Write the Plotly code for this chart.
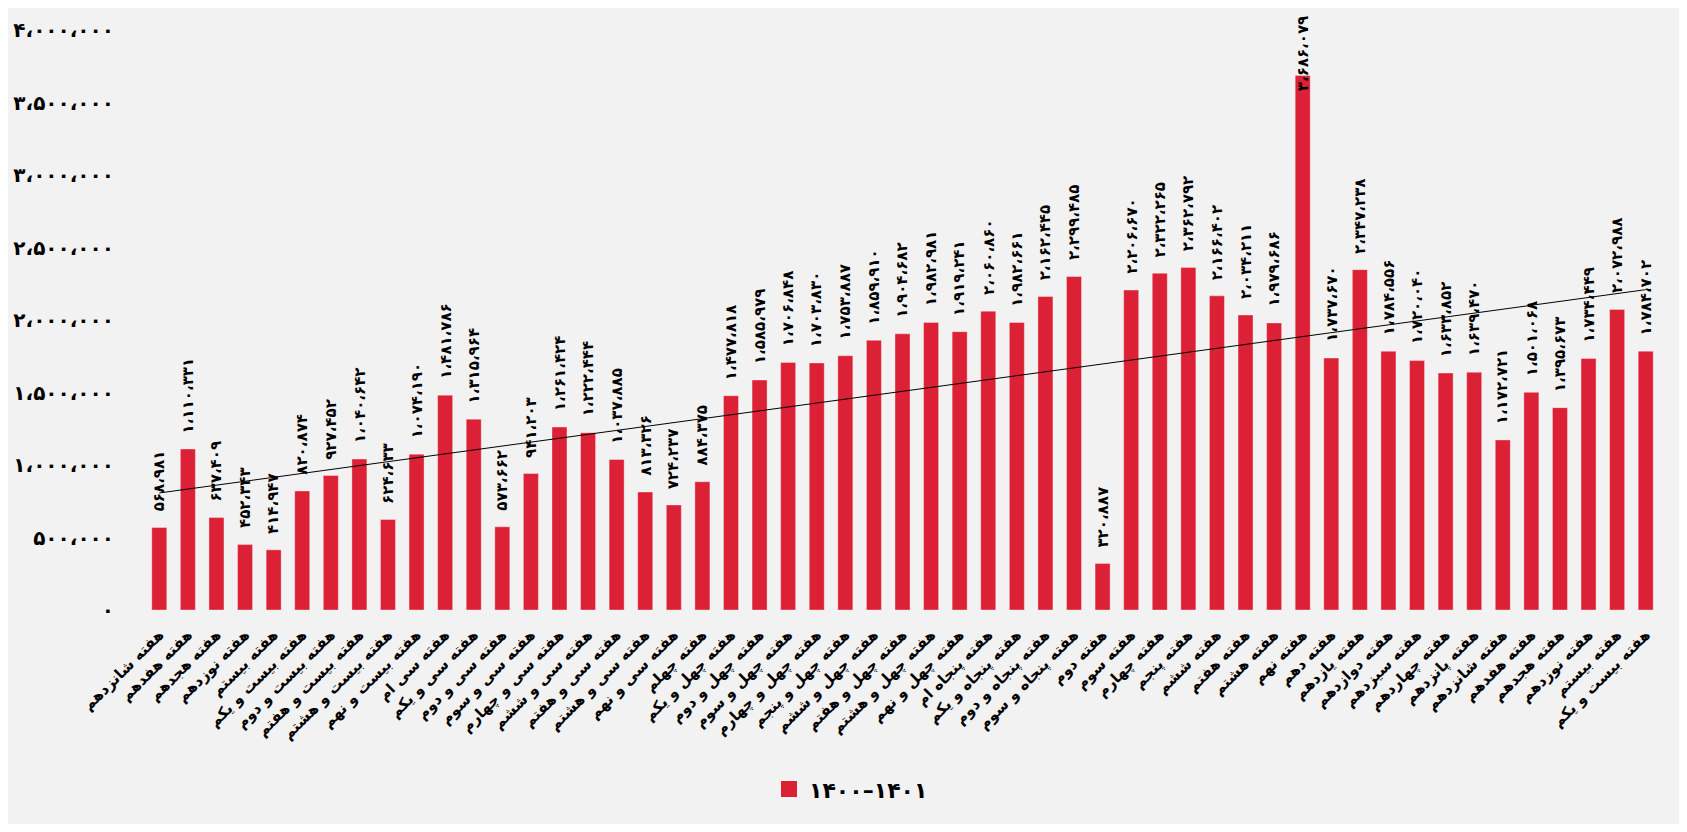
import numpy as np
import plotly.graph_objects as go

weeks = [
    "هفته شانزدهم", "هفته هفدهم", "هفته هجدهم", "هفته نوزدهم", "هفته بیستم",
    "هفته بیست و یکم", "هفته بیست و دوم", "هفته بیست و هفتم", "هفته بیست و هشتم",
    "هفته بیست و نهم", "هفته سی ام", "هفته سی و یکم", "هفته سی و دوم", "هفته سی و سوم",
    "هفته سی و چهارم", "هفته سی و ششم", "هفته سی و هفتم", "هفته سی و هشتم",
    "هفته سی و نهم", "هفته چهلم", "هفته چهل و یکم", "هفته چهل و دوم", "هفته چهل و سوم",
    "هفته چهل و چهارم", "هفته چهل و پنجم", "هفته چهل و ششم", "هفته چهل و هفتم",
    "هفته چهل و هشتم", "هفته چهل و نهم", "هفته پنجاه ام", "هفته پنجاه و یکم",
    "هفته پنجاه و دوم", "هفته پنجاه و سوم",
    "هفته دوم", "هفته سوم", "هفته چهارم", "هفته پنجم", "هفته ششم", "هفته هفتم",
    "هفته هشتم", "هفته نهم", "هفته دهم", "هفته یازدهم", "هفته دوازدهم", "هفته سیزدهم",
    "هفته چهاردهم", "هفته پانزدهم", "هفته شانزدهم", "هفته هفدهم", "هفته هجدهم",
    "هفته نوزدهم", "هفته بیستم", "هفته بیست و یکم",
]

values = [
    568981, 1110331, 637409, 452343, 414947, 820874, 927452, 1040642, 624633,
    1074190, 1481786, 1315964, 573662, 941203, 1261424, 1222444, 1037885, 813326,
    724237, 884375, 1477818, 1585979, 1706848, 1703830, 1753887, 1859910, 1904682,
    1982981, 1919241, 2060860, 1982661, 2162445, 2299485, 320887, 2206670, 2322265,
    2362792, 2166402, 2034211, 1979686, 3686079, 1737670, 2347238, 1784556, 1720040,
    1633852, 1639470, 1172721, 1501068, 1395673, 1734449, 2072988, 1784702,
]

y_tick_values = [0, 500000, 1000000, 1500000, 2000000, 2500000, 3000000, 3500000, 4000000]
y_tick_labels = ["۰", "۵۰۰،۰۰۰", "۱،۰۰۰،۰۰۰", "۱،۵۰۰،۰۰۰", "۲،۰۰۰،۰۰۰",
                 "۲،۵۰۰،۰۰۰", "۳،۰۰۰،۰۰۰", "۳،۵۰۰،۰۰۰", "۴،۰۰۰،۰۰۰"]

series_name = "۱۴۰۰–۱۴۰۱"

FA_DIGITS = str.maketrans("0123456789", "۰۱۲۳۴۵۶۷۸۹")


def fa_number(n):
    return f"{n:,}".replace(",", "،").translate(FA_DIGITS)


BAR_COLOR = "#dc2035"
FONT = "DejaVu Sans"

idx = list(range(len(values)))

fig = go.Figure()
fig.add_trace(go.Bar(
    x=idx, y=values,
    marker=dict(color=BAR_COLOR, line=dict(color="rgba(255,255,255,0.35)", width=1)),
    showlegend=False,
    hoverinfo="skip",
))

# linear trend line computed from the data
slope, intercept = np.polyfit(idx, values, 1)
tx = [idx[0], idx[-1]]
fig.add_trace(go.Scatter(
    x=tx, y=[intercept + slope * t for t in tx],
    mode="lines", line=dict(color="black", width=1),
    showlegend=False, hoverinfo="skip",
))

# legend entry
fig.add_trace(go.Scatter(
    x=[None], y=[None], mode="markers", name=series_name,
    marker=dict(symbol="square", size=16, color=BAR_COLOR),
))

annotations = []
ymax = y_tick_values[-1]
label_font = dict(family=FONT, size=15, color="black", weight="bold")
for i, v in zip(idx, values):
    if v < 0.85 * ymax:
        annotations.append(dict(
            x=i, y=v, xref="x", yref="y", text=fa_number(v), showarrow=False,
            textangle=-90, yanchor="bottom", xanchor="center", yshift=14,
            font=label_font,
        ))
    else:
        annotations.append(dict(
            x=i, y=v, xref="x", yref="y", text=fa_number(v), showarrow=False,
            textangle=-90, yanchor="middle", xanchor="center", yshift=22,
            font=label_font,
        ))

fig.update_layout(
    width=1671, height=816,
    margin=dict(l=137, r=19, t=22, b=214, autoexpand=False),
    paper_bgcolor="#f2f2f2", plot_bgcolor="#f2f2f2",
    bargap=0.475,
    font=dict(family=FONT, color="black"),
    xaxis=dict(
        tickmode="array", tickvals=idx, ticktext=weeks, tickangle=-45,
        range=[-0.5, len(values) - 0.5], automargin=False,
        showgrid=False, zeroline=False, showline=False, ticks="",
        tickfont=dict(family=FONT, size=15, color="black", weight="bold"),
        ticklabelstandoff=12,
    ),
    yaxis=dict(
        tickmode="array", tickvals=y_tick_values, ticktext=y_tick_labels,
        range=[0, ymax], automargin=False,
        showgrid=False, zeroline=False, showline=False, ticks="",
        tickfont=dict(family=FONT, size=20, color="black", weight="bold"),
        ticklabelstandoff=30,
    ),
    legend=dict(
        orientation="h", x=0.466, xanchor="center", y=-0.309, yanchor="middle",
        font=dict(family=FONT, size=22, color="black", weight="bold"),
        bgcolor="rgba(0,0,0,0)",
    ),
    annotations=annotations,
)

fig.write_html("out.html")
